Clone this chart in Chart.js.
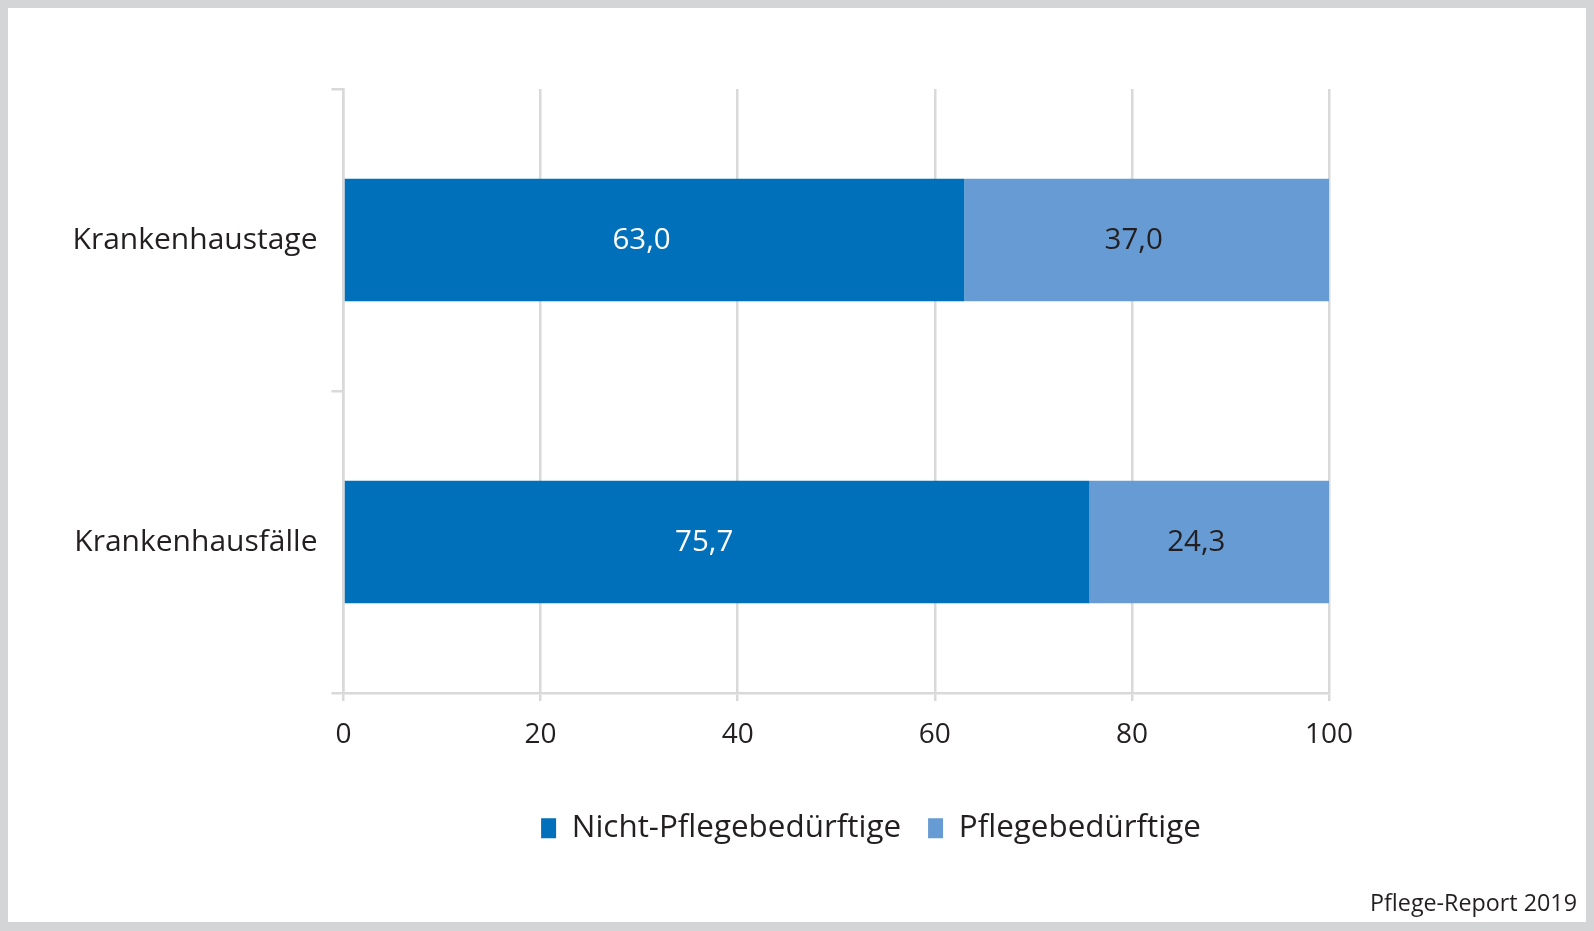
<!DOCTYPE html>
<html>
<head>
<meta charset="utf-8">
<script src="https://cdn.jsdelivr.net/npm/chart.js@4"></script>
<style>
  html, body { margin: 0; padding: 0; background: #D3D5D6; width: 1594px; height: 931px; overflow: hidden; }
  #frame { position: absolute; left: 8px; top: 8px; width: 1578px; height: 914px; background: #ffffff; overflow: hidden; }
  #c { position: absolute; left: 0; top: 0; }
  #src { position: absolute; right: 9px; top: 878px; font-family: "Open Sans", sans-serif; font-size: 23.3px; color: #231F20; }
</style>
</head>
<body>
<div id="frame">
  <canvas id="c" width="1726" height="914"></canvas>
  <div id="src">Pflege-Report 2019</div>
</div>
<script>
const categories = ["Krankenhaustage", "Krankenhausfälle"];
const seriesNames = ["Nicht-Pflegebedürftige", "Pflegebedürftige"];
const nichtPflege = [63.0, 75.7];
const pflege = [37.0, 24.3];
const xTicks = [0, 20, 40, 60, 80, 100];

const GRID = "#D9D9D9";
const TEXT = "#231F20";
const FONT = "'Open Sans', sans-serif";

const valueLabels = {
  id: "valueLabels",
  afterDatasetsDraw(chart) {
    const ctx = chart.ctx;
    ctx.save();
    ctx.font = "29.5px " + FONT;
    ctx.textAlign = "center";
    ctx.textBaseline = "middle";
    chart.data.datasets.forEach((ds, di) => {
      const meta = chart.getDatasetMeta(di);
      meta.data.forEach((bar, i) => {
        const v = ds.data[i];
        const cx = (bar.x + bar.base) / 2 - 13;
        ctx.fillStyle = di === 0 ? "#ffffff" : TEXT;
        ctx.fillText(v.toFixed(1).replace(".", ","), cx, bar.y + 1);
      });
    });
    ctx.restore();
  }
};

new Chart(document.getElementById("c"), {
  type: "bar",
  data: {
    labels: categories,
    datasets: [
      { label: seriesNames[0], data: nichtPflege, backgroundColor: "#0070BA", borderWidth: 0, yAxisID: "y" },
      { label: seriesNames[1], data: pflege, backgroundColor: "#679BD3", borderWidth: 0, yAxisID: "y" }
    ]
  },
  options: {
    indexAxis: "y",
    responsive: false,
    animation: false,
    layout: { padding: { top: 81, right: 0, left: 0, bottom: 68 } },
    datasets: { bar: { barPercentage: 0.405, categoryPercentage: 1.0 } },
    scales: {
      x: {
        stacked: true,
        min: 0, max: 100,
        afterBuildTicks(scale) { scale.ticks = xTicks.map(v => ({ value: v })); },
        grid: { color: GRID, lineWidth: 2.5, tickLength: 8, drawOnChartArea: true },
        border: { color: GRID, width: 2.5 },
        ticks: { color: TEXT, font: { family: FONT, size: 28 }, padding: 17, maxRotation: 0 },
        afterFit(scale) { scale.height = 92.6; }
      },
      y: {
        stacked: true,
        position: "left",
        grid: { color: GRID, lineWidth: 2.5, tickLength: 12, offset: true, drawOnChartArea: false },
        border: { color: GRID, width: 2.5 },
        ticks: { color: TEXT, font: { family: FONT, size: 30 }, padding: 14 },
        afterFit(scale) { scale.width = 335.5; }
      },
      yRight: {
        axis: "y",
        type: "category",
        position: "right",
        grid: { display: false },
        border: { display: false },
        ticks: { display: false },
        afterFit(scale) { scale.width = 405; }
      }
    },
    plugins: {
      legend: {
        position: "bottom",
        labels: { color: TEXT, font: { family: FONT, size: 31.4 }, boxWidth: 15, boxHeight: 20, padding: 27 }
      },
      tooltip: { enabled: false }
    }
  },
  plugins: [valueLabels]
});
</script>
</body>
</html>
